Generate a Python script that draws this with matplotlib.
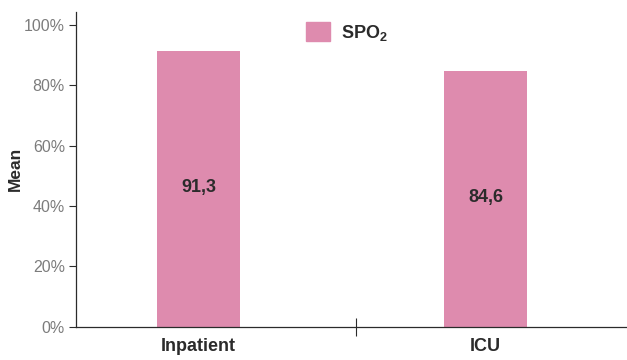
import matplotlib
matplotlib.use("Agg")
import matplotlib.pyplot as plt
from matplotlib.patches import Patch
from matplotlib.ticker import FuncFormatter

# mean SpO2 by ward
wards = ["Inpatient", "ICU"]
spo2_mean = [91.3, 84.6]
value_labels = ["91,3", "84,6"]
series_name = "SPO$_2$"
y_ticks = [0, 20, 40, 60, 80, 100]

pink = "#de8bae"
dark = "#2b2b2b"
grey = "#7c7c7c"

plt.rcParams["mathtext.fontset"] = "custom"
plt.rcParams["mathtext.rm"] = "Liberation Sans:bold"
plt.rcParams["mathtext.default"] = "rm"

fig = plt.figure(figsize=(6.27, 3.6), dpi=100)
ax = fig.add_axes([0.1212, 0.0925, 0.8788, 0.8742])

xpos = range(len(wards))
ax.bar(xpos, spo2_mean, width=0.29, color=pink, zorder=2)
for x, v, lbl in zip(xpos, spo2_mean, value_labels):
    ax.text(x, v / 2 + 0.6, lbl, ha="center", va="center", fontsize=13,
            fontweight="bold", color=dark, family="Liberation Sans")

ax.set_xlim(-0.427, 1.493)
ax.set_ylim(0, 104.3)

# y axis: grey percent labels
ax.set_yticks(y_ticks)
ax.yaxis.set_major_formatter(FuncFormatter(lambda v, p: "%d%%" % v))
ax.tick_params(axis="y", length=5, width=0.8, color=dark, pad=3)
for t in ax.get_yticklabels():
    t.set_fontsize(11.5)
    t.set_color(grey)
    t.set_family("Liberation Sans")
ax.set_ylabel("Mean", fontsize=12.5, fontweight="bold", color=dark,
              family="Liberation Sans", labelpad=1)

# x axis: names under bars, one divider tick between them
ax.set_xticks(list(xpos))
ax.set_xticklabels(wards, fontsize=13, fontweight="bold", color=dark,
                   family="Liberation Sans")
ax.tick_params(axis="x", which="major", length=0, pad=8)
ax.set_xticks([0.549], minor=True)
ax.tick_params(axis="x", which="minor", direction="inout", length=13,
               width=0.8, color=dark)

for side in ("top", "right"):
    ax.spines[side].set_visible(False)
for side in ("left", "bottom"):
    ax.spines[side].set_linewidth(0.9)
    ax.spines[side].set_color(dark)

leg = fig.legend(handles=[Patch(color=pink, label=series_name)],
                 loc="upper center", bbox_to_anchor=(0.553, 0.985),
                 frameon=False, handlelength=1.3, handleheight=1.3,
                 handletextpad=0.6,
                 prop={"family": "Liberation Sans", "weight": "bold", "size": 13})
for t in leg.get_texts():
    t.set_color(dark)

fig.savefig("out.png", dpi=100)
